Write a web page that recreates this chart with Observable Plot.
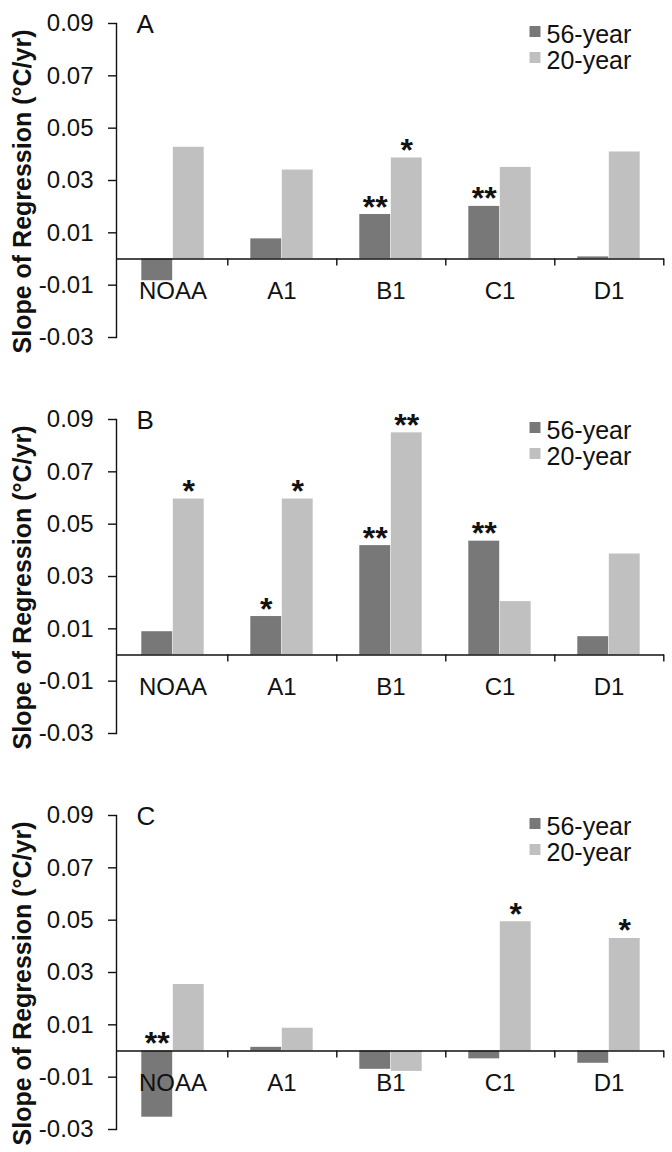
<!DOCTYPE html>
<html>
<head>
<meta charset="utf-8">
<script src="https://cdn.jsdelivr.net/npm/d3@7"></script>
<script src="https://cdn.jsdelivr.net/npm/@observablehq/plot@0.6"></script>
<style>
html, body { margin: 0; padding: 0; background: #fff; overflow: hidden; }
#chart svg { display: block; }
</style>
</head>
<body>
<div id="chart"></div>
<script>
// ---- data ----
const categories = ["NOAA", "A1", "B1", "C1", "D1"];
const seriesNames = ["56-year", "20-year"];
const panelLabels = ["A", "B", "C"];
const yTitle = "Slope of Regression (°C/yr)";
const yTicks = [-0.03, -0.01, 0.01, 0.03, 0.05, 0.07, 0.09];

const a56 = [-0.0083, 0.0077, 0.0170, 0.0201, 0.0008];
const a20 = [0.0427, 0.0340, 0.0386, 0.0350, 0.0409];
const b56 = [0.0089, 0.0147, 0.0418, 0.0435, 0.0070];
const b20 = [0.0596, 0.0596, 0.0849, 0.0204, 0.0386];
const c56 = [-0.0253, 0.0014, -0.0070, -0.0030, -0.0047];
const c20 = [0.0254, 0.0087, -0.0078, 0.0494, 0.0430];

const aSig56 = ["", "", "**", "**", ""];
const aSig20 = ["", "", "*", "", ""];
const bSig56 = ["", "*", "**", "**", ""];
const bSig20 = ["*", "*", "**", "", ""];
const cSig56 = ["**", "", "", "", ""];
const cSig20 = ["", "", "", "*", "*"];

// ---- styling ----
const W = 672, ML = 116, MR = 8, MT = 23, PLOT_BOTTOM = 337;
const band = (W - ML - MR) / categories.length;
const barW = 31.5;
const dark = "#787878", light = "#c0c0c0", ink = "#111";
const font = "'Liberation Sans', Arial, sans-serif";

const panels = [
  {label: panelLabels[0], v56: a56, v20: a20, s56: aSig56, s20: aSig20},
  {label: panelLabels[1], v56: b56, v20: b20, s56: bSig56, s20: bSig20},
  {label: panelLabels[2], v56: c56, v20: c20, s56: cSig56, s20: cSig20}
];

const root = document.getElementById("chart");

panels.forEach((p, k) => {
  const rows56 = categories.map((c, i) => ({cat: c, series: seriesNames[0], value: p.v56[i], sig: p.s56[i]}));
  const rows20 = categories.map((c, i) => ({cat: c, series: seriesNames[1], value: p.v20[i], sig: p.s20[i]}));
  const h = k === 2 ? 360 : 396;
  const chart = Plot.plot({
    width: W,
    height: h,
    marginLeft: ML,
    marginRight: MR,
    marginTop: MT,
    marginBottom: h - PLOT_BOTTOM,
    style: {fontFamily: font, background: "#fff", color: ink},
    x: {domain: categories, padding: 0, axis: null},
    y: {domain: [-0.03, 0.09], axis: null},
    marks: [
      Plot.barY(rows56, {x: "cat", y: "value", fill: dark, insetLeft: band / 2 - barW, insetRight: band / 2}),
      Plot.barY(rows20, {x: "cat", y: "value", fill: light, insetLeft: band / 2, insetRight: band / 2 - barW}),
      Plot.text(categories, {x: d => d, y: 0, dy: 40, text: d => d, fontSize: 24, lineAnchor: "bottom", fill: ink}),
      Plot.ruleY([0], {stroke: ink, strokeWidth: 1.4}),
      Plot.ruleX(categories, {x: d => d, y1: 0, y2: 0, dx: band / 2, insetBottom: -7, stroke: ink, strokeWidth: 1.4}),
      Plot.frame({anchor: "left", stroke: ink, strokeWidth: 1.4}),
      Plot.axisY({ticks: yTicks, tickFormat: d => d.toFixed(2), tickSize: 8, tickPadding: 15, fontSize: 24, label: null, stroke: ink, strokeWidth: 1.4, fill: ink}),
      Plot.text(rows56.filter(d => d.sig), {x: "cat", y: d => Math.max(d.value, 0), text: "sig", dx: -barW / 2, dy: 3, lineAnchor: "bottom", fontSize: 32, fontWeight: "bold", fill: ink}),
      Plot.text(rows20.filter(d => d.sig), {x: "cat", y: d => Math.max(d.value, 0), text: "sig", dx: barW / 2, dy: 3, lineAnchor: "bottom", fontSize: 32, fontWeight: "bold", fill: ink}),
      // legend
      Plot.dot([seriesNames[0]], {frameAnchor: "top-left", dx: 418.5, dy: 8, symbol: "square", r: 6.2, fill: dark, stroke: null}),
      Plot.dot([seriesNames[1]], {frameAnchor: "top-left", dx: 418.5, dy: 34, symbol: "square", r: 6.2, fill: light, stroke: null}),
      Plot.text([seriesNames[0]], {frameAnchor: "top-left", dx: 430, dy: 19, text: d => d, textAnchor: "start", lineAnchor: "bottom", fontSize: 25, fill: ink}),
      Plot.text([seriesNames[1]], {frameAnchor: "top-left", dx: 430, dy: 45, text: d => d, textAnchor: "start", lineAnchor: "bottom", fontSize: 25, fill: ink}),
      // panel letter
      Plot.text([p.label], {frameAnchor: "top-left", dx: 20, dy: 9, text: d => d, textAnchor: "start", lineAnchor: "bottom", fontSize: 26, fill: ink}),
      // y title
      Plot.text([yTitle], {frameAnchor: "left", dx: -86, dy: 11, rotate: -90, text: d => d, textAnchor: "middle", lineAnchor: "bottom", fontSize: 25, fontWeight: "bold", fill: ink})
    ]
  });
  root.appendChild(chart);
});
</script>
</body>
</html>
